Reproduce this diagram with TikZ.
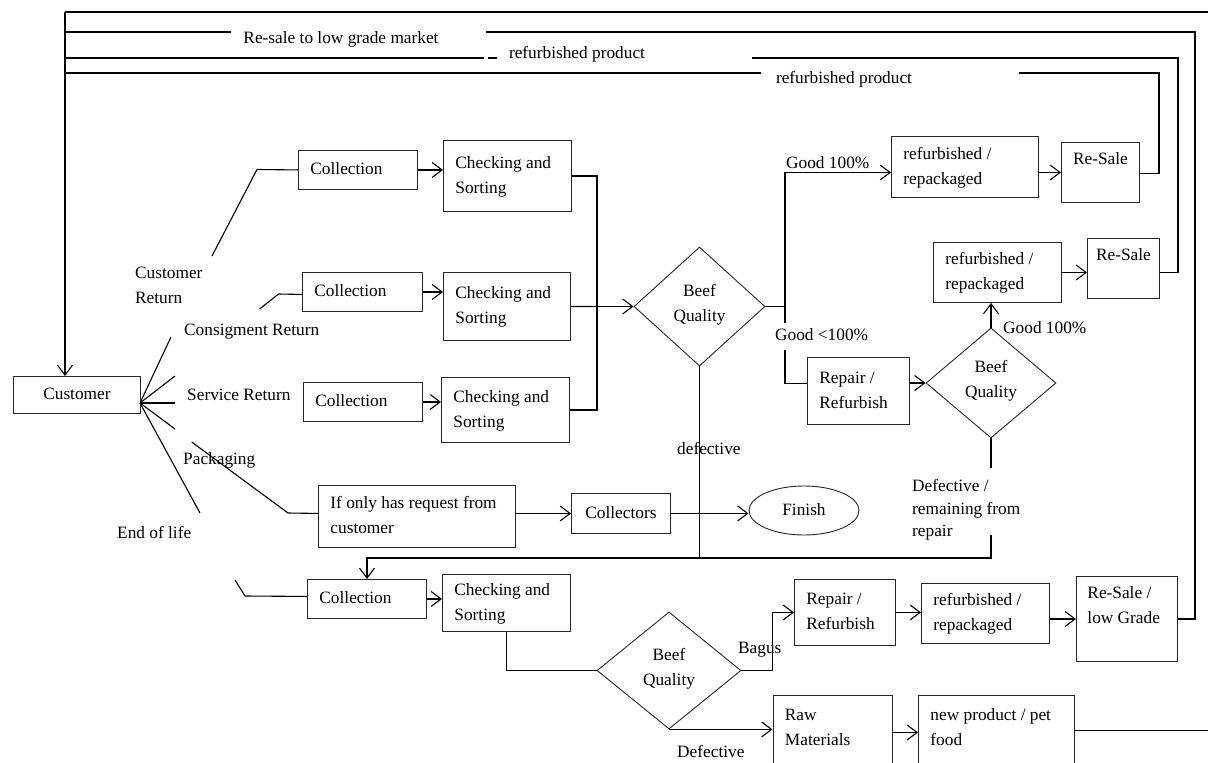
\documentclass[tikz,border=0pt]{standalone}
\usepackage{fontspec}
\setmainfont{Liberation Serif}
\usetikzlibrary{shapes.geometric,arrows.meta}
\begin{document}
\begin{tikzpicture}[x=1pt,y=-1pt,
 base/.style={font=\fontsize{17.3pt}{25pt}\selectfont, execute at begin node=\strut, execute at end node=\strut},
 pbox/.style={base, draw=black!85, line width=0.9pt, anchor=north west, inner xsep=12pt, inner ysep=0pt, align=flush left},
 cbox/.style={pbox, align=flush center},
 dec/.style={base, diamond, draw=black!85, line width=0.9pt, inner sep=0pt, align=center},
 lbl/.style={base, inner sep=0pt, anchor=west, align=left},
 con/.style={line width=1.1pt},
 arr/.style={con, -{Straight Barb[length=10pt,width=15pt]}}]
\useasboundingbox (0,0) rectangle (1208,763);
\fill[white] (0,0) rectangle (1208,763);
\clip (0,0) rectangle (1208,763);

% ---------- boxes ----------
\node[cbox, text width=103pt, minimum height=37pt] (cust) at (13,376) {Customer};
\node[pbox, text width=95pt, minimum height=39pt] (c1) at (298,150) {Collection};
\node[pbox, text width=104pt, minimum height=71pt] (k1) at (443,140) {Checking and\\Sorting};
\node[pbox, text width=96pt, minimum height=39pt] (c2) at (302,272) {Collection};
\node[pbox, text width=103pt, minimum height=68pt] (k2) at (443,272) {Checking and\\Sorting};
\node[pbox, text width=95pt, minimum height=39pt] (c3) at (303,382) {Collection};
\node[pbox, text width=104pt, minimum height=65pt] (k3) at (441,377) {Checking and\\Sorting};
\node[dec, minimum width=131pt, minimum height=119pt] (q1) at (699.5,306.5) {Beef\\Quality};
\node[pbox, text width=123pt, minimum height=61pt] (g1) at (891,136) {refurbished /\\repackaged};
\node[cbox, inner xsep=6pt, text width=66pt, minimum height=60pt] (rs1) at (1061,142) {Re-Sale\\\mbox{}};
\node[pbox, text width=78pt, minimum height=67pt] (rep1) at (807,357) {Repair /\\Refurbish};
\node[dec, minimum width=130pt, minimum height=110pt] (q2) at (991,383) {Beef\\Quality};
\node[pbox, text width=104pt, minimum height=60pt] (g2) at (933,242) {refurbished /\\repackaged};
\node[cbox, inner xsep=6pt, text width=60pt, minimum height=60pt] (rs2) at (1087,238) {Re-Sale\\\mbox{}};
\node[pbox, text width=173pt, minimum height=62pt] (ifo) at (318,485) {If only has request from\\customer};
\node[cbox, inner xsep=6pt, text width=87pt, minimum height=40pt] (col) at (571,493) {Collectors};
\node[base, ellipse, draw=black!85, line width=0.9pt, inner sep=0pt, minimum width=110pt, minimum height=49pt] (fin) at (804,510.5) {Finish};
\node[pbox, text width=95pt, minimum height=39pt] (c4) at (307,579) {Collection};
\node[pbox, text width=104pt, minimum height=57pt] (k4) at (442,574) {Checking and\\Sorting};
\node[dec, minimum width=144pt, minimum height=117pt] (q3) at (669,670.5) {Beef\\Quality};
\node[pbox, text width=77pt, minimum height=66pt] (rep2) at (794,579) {Repair /\\Refurbish};
\node[pbox, text width=104pt, minimum height=60pt] (g3) at (921,583) {refurbished /\\repackaged};
\node[pbox, inner xsep=11pt, text width=79pt, minimum height=85pt] (rl) at (1076,576) {Re-Sale /\\low Grade\\\mbox{}};
\node[pbox, text width=95pt, minimum height=90pt] (raw) at (772.5,695) {Raw\\Materials\\\mbox{}};
\node[pbox, text width=132pt, minimum height=90pt] (np) at (918,695) {new product / pet\\food\\\mbox{}};

% ---------- labels ----------
\node[base, inner sep=0pt] (lA) at (341,38) {Re-sale to low grade market};
\node[base, inner sep=0pt] (lB) at (577,53) {refurbished product};
\node[base, inner sep=0pt] (lC) at (844,78) {refurbished product};
\node[lbl] (lD) at (786,163) {Good 100\%};
\node[lbl] (lE) at (775,335) {Good <100\%};
\node[lbl] (lF) at (1003,328) {Good 100\%};
\node[lbl] (lG) at (677,449) {defective};
\node[lbl, font=\fontsize{17.3pt}{22.5pt}\selectfont] (lH) at (912,511.5) {Defective /\\remaining from\\repair};
\node[lbl] (lI) at (135,289.5) {Customer\\Return};
\node[lbl] (lJ) at (184,330) {Consigment Return};
\node[lbl] (lK) at (187,395) {Service Return};
\node[lbl] (lL) at (183,459) {Packaging};
\node[lbl] (lM) at (117,533) {End of life};
\node[lbl] (lN) at (738,648) {Bagus};
\node[lbl] (lO) at (677,752) {Defective};

% ---------- coordinates ----------
\coordinate (tl) at (65,12);
\coordinate (gA1) at (486,32);
\coordinate (gA2) at (231,32);
\coordinate (gB1) at (752,58);
\coordinate (gB2) at (497,58);
\coordinate (gB3) at (487.5,58);
\coordinate (gB4) at (484,58);
\coordinate (gC1) at (1019,73);
\coordinate (gC2) at (761,73);
\coordinate (jn) at (597,306.5);
\coordinate (br) at (785,306.5);
\coordinate (gE1) at (785,323);
\coordinate (gE2) at (785,350);
\coordinate (gD1) at (991,468);
\coordinate (gD2) at (991,535);
\coordinate (dj) at (991,558);
\coordinate (fo) at (140,403);
\coordinate (fa1) at (171,337);
\coordinate (fa2) at (212,256);
\coordinate (fa3) at (257,169.5);
\coordinate (fb1) at (175,376);
\coordinate (fb2) at (259.5,309);
\coordinate (fb3) at (278.6,294);
\coordinate (fc) at (175,403);
\coordinate (fd1) at (175,429);
\coordinate (fd2) at (191.7,442);
\coordinate (fd3) at (288,513);
\coordinate (fe1) at (200,513);
\coordinate (fe2) at (235,580);
\coordinate (fe3) at (245,596);

% ---------- feedback loops to customer ----------
\draw[arr] (tl) -- (tl |- cust.north);
\draw[con] ([yshift=10pt]np.east) -- ++(160,0) |- (tl);
\draw[con] (rl.east) -| (1195,32) -- (gA1);
\draw[con] (gA2) -- (gA2 -| tl);
\draw[con] ([yshift=-4pt]rs2.east) -| (1178,58) -- (gB1);
\draw[con] (gB2) -- (gB3);
\draw[con] (gB4) -- (gB4 -| tl);
\draw[con] ([yshift=-1pt]rs1.east) -| (1159,73) -- (gC1);
\draw[con] (gC2) -- (gC2 -| tl);

% ---------- fan from customer ----------
\draw[con] (fo) -- (fa1);
\draw[con] (fa2) -- (fa3) -- (c1.west);
\draw[con] (fo) -- (fb1);
\draw[con] (fb2) -- (fb3) -- ([yshift=-2.5pt]c2.west);
\draw[con] (fo) -- (fc);
\draw[con] (fo) -- (fd1);
\draw[con] (fd2) -- (fd3) -- ([yshift=3pt]ifo.west);
\draw[con] (fo) -- (fe1);
\draw[con] (fe2) -- (fe3) -- ([yshift=2.5pt]c4.west);

% ---------- upper flow ----------
\draw[arr] (c1.east) -- (c1.east -| k1.west);
\draw[arr] (c2.east) -- (c2.east -| k2.west);
\draw[arr] (c3.east) -- (c3.east -| k3.west);
\draw[con] (k1.east) -| (jn);
\draw[con] (k3.east) -| (jn);
\draw[con] (k2.east) -- (jn);
\draw[arr] (jn) -- (q1.west);
\draw[con] (q1.east) -- (br) -- (gE1);
\draw[arr] (br) |- ([yshift=-5.5pt]g1.west);
\draw[con] (gE2) |- ([yshift=7.5pt]rep1.west);
\draw[arr] (g1.east |- rs1.west) -- (rs1.west);
\draw[arr] (rep1.east |- q2.west) -- (q2.west);
\draw[arr] (q2.north) -- (q2.north |- g2.south);
\draw[arr] (g2.east) -- (g2.east -| rs2.west);

% ---------- defective returns ----------
\draw[con] (q2.south) -- (gD1);
\draw[arr] (gD2) -- (dj) -| (c4.north);
\draw[con] (q1.south) -- (q1.south |- dj);

% ---------- packaging ----------
\draw[arr] (ifo.east |- col.west) -- (col.west);
\draw[arr] (col.east) -- (col.east -| fin.west);

% ---------- lower flow ----------
\draw[arr] (c4.east) -- (c4.east -| k4.west);
\draw[con] (k4.south) |- (q3.west);
\draw[arr] (q3.east) -- (772.5,670.5) |- (rep2.west);
\draw[arr] (rep2.east) -- (rep2.east -| g3.west);
\draw[arr] (g3.east |- rl.west) -- (rl.west);
\draw[arr] (q3.south) -- (q3.south -| raw.west);
\draw[arr] ([yshift=8pt]raw.east) -- ([yshift=8pt]raw.east -| np.west);
\end{tikzpicture}
\end{document}
